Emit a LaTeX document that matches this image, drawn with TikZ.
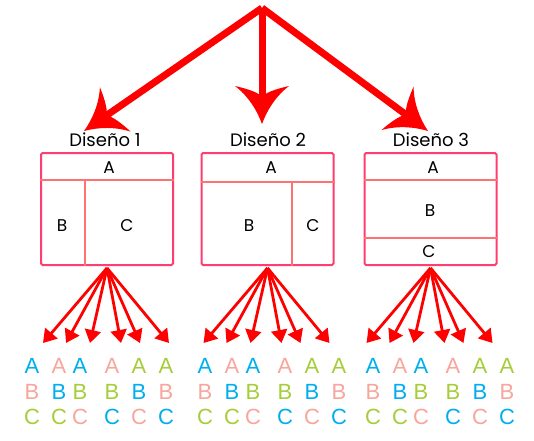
\documentclass[tikz,border=0pt]{standalone}
\usepackage{fontspec}
\setmainfont{Liberation Sans}
\newfontfamily\gothic{Poppins}
\usetikzlibrary{arrows.meta}
\definecolor{boxred}{HTML}{FF3D6E}
\definecolor{linered}{HTML}{FF7272}
\definecolor{lblue}{HTML}{00AEEF}
\definecolor{lpink}{HTML}{F8A59C}
\definecolor{lgreen}{HTML}{A5CD39}
% swept-back arrow head of the top arrows
\pgfdeclarearrow{
  name=Swept,
  setup code={
    \pgfarrowssettipend{0pt}
    \pgfarrowssetlineend{-29pt}
    \pgfarrowssetbackend{-38pt}
    \pgfarrowssetvisualbackend{-30pt}
    \pgfarrowshullpoint{0pt}{0pt}
    \pgfarrowshullpoint{-38pt}{27pt}
    \pgfarrowshullpoint{-38pt}{-27pt}
  },
  drawing code={
    \pgfpathmoveto{\pgfpoint{0pt}{0pt}}
    \pgfpathcurveto{\pgfpoint{-14pt}{5pt}}{\pgfpoint{-28pt}{14pt}}{\pgfpoint{-38pt}{27pt}}
    \pgfpathcurveto{\pgfpoint{-36pt}{18pt}}{\pgfpoint{-33pt}{8pt}}{\pgfpoint{-30pt}{3.5pt}}
    \pgfpathlineto{\pgfpoint{-30pt}{-3.5pt}}
    \pgfpathcurveto{\pgfpoint{-33pt}{-8pt}}{\pgfpoint{-36pt}{-18pt}}{\pgfpoint{-38pt}{-27pt}}
    \pgfpathcurveto{\pgfpoint{-28pt}{-14pt}}{\pgfpoint{-14pt}{-5pt}}{\pgfpoint{0pt}{0pt}}
    \pgfpathclose
    \pgfusepathqfill
  }
}
\tikzset{
  bigarrow/.style={draw=red,line width=7pt,-Swept},
  smallarrow/.style={draw=red,line width=2.8pt,-{Triangle[length=13pt,width=16pt]}},
  design/.style={draw=boxred,line width=2pt,rounded corners=1.5pt,minimum width=132pt,minimum height=112pt,inner sep=0pt},
  divider/.style={draw=linered,line width=1.5pt},
  title/.style={font=\gothic\fontsize{18}{20}\selectfont,inner sep=0pt},
  part/.style={font=\gothic\fontsize{17}{19}\selectfont,inner sep=0pt},
  letter/.style={font=\fontsize{22}{24}\selectfont,inner sep=0pt}
}
\begin{document}
\begin{tikzpicture}[x=1pt,y=-1pt]
    \useasboundingbox (0,0) rectangle (534,440);
    % top arrows
    \coordinate (top) at (262,8);
    \coordinate (e1) at (84,131);
    \coordinate (e2) at (262,124);
    \coordinate (e3) at (428,131);
    \foreach \i in {1,2,3}
        \draw[bigarrow] (top) -- (e\i);
    % designs
    \node[title] (t1) at (105,140) {Diseño 1};
    \node[title] (t2) at (268,140) {Diseño 2};
    \node[title] (t3) at (431,140) {Diseño 3};
    \node[design] (d1) at (107,209) {};
    \node[design] (d2) at (267.5,209) {};
    \node[design] (d3) at (430.5,209) {};
    % design 1
    \draw[divider] (d1.west |- 0,180) -- (d1.east |- 0,180);
    \draw[divider] (85,180) -- (85,266);
    \node[part] (a1) at (109,168) {A};
    \node[part] (b1) at (62,226) {B};
    \node[part] (c1) at (127,226) {C};
    % design 2
    \draw[divider] (d2.west |- 0,182) -- (d2.east |- 0,182);
    \draw[divider] (292,182) -- (292,266);
    \node[part] (a2) at (271,168) {A};
    \node[part] (b2) at (249,226) {B};
    \node[part] (c2) at (313,226) {C};
    % design 3
    \draw[divider] (d3.west |- 0,180) -- (d3.east |- 0,180);
    \draw[divider] (d3.west |- 0,238) -- (d3.east |- 0,238);
    \node[part] (a3) at (433,168) {A};
    \node[part] (b3) at (430,211) {B};
    \node[part] (c3) at (429,252) {C};
    % small arrows
    \foreach \b in {1,2,3}{
        \coordinate (o\b) at ([yshift=-2pt]d\b.south);
        \foreach \dx [count=\i] in {-64,-41,-17,14,33,62}{
            \coordinate (s\b\i) at ([xshift=\dx pt,yshift=-75pt]o\b);
            \draw[smallarrow] (o\b) -- (s\b\i);
        }
    }
    % orderings
    \foreach \g/\gx in {1/32,2/205,3/373}
        \foreach \dx/\ca/\cb/\cc [count=\i] in {0/lblue/lpink/lgreen,27/lpink/lblue/lgreen,48/lblue/lgreen/lpink,80/lpink/lgreen/lblue,107/lgreen/lblue/lpink,134/lgreen/lpink/lblue}{
            \node[letter,text=\ca] (la\g\i) at (\gx+\dx,366) {A};
            \node[letter,text=\cb] (lb\g\i) at (\gx+\dx,392) {B};
            \node[letter,text=\cc] (lc\g\i) at (\gx+\dx,417) {C};
        }
\end{tikzpicture}
\end{document}
